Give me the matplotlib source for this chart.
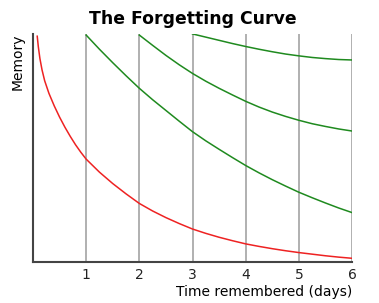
import numpy as np
import matplotlib
matplotlib.use("Agg")
import matplotlib.pyplot as plt

# values (days, memory 0..1)
red_t = [0.08, 0.1, 0.13, 0.17, 0.22, 0.3, 0.4, 0.5, 0.6, 0.7, 0.8, 0.9, 1.0,
         1.25, 1.5, 1.75, 2.0, 2.25, 2.5, 2.75, 3.0, 3.25, 3.5, 3.75, 4.0,
         4.25, 4.5, 4.75, 5.0, 5.25, 5.5, 5.75, 6.0]
red_m = [0.99, 0.945, 0.893, 0.843, 0.795, 0.74, 0.685, 0.636, 0.592, 0.552, 0.515,
         0.482, 0.452, 0.395, 0.345, 0.30, 0.258, 0.225, 0.196, 0.17, 0.146,
         0.127, 0.11, 0.095, 0.081, 0.07, 0.06, 0.051, 0.043, 0.036, 0.029,
         0.023, 0.018]

g1_t = [1.0, 1.25, 1.5, 1.75, 2.0, 2.25, 2.5, 2.75, 3.0, 3.25, 3.5, 3.75,
        4.0, 4.25, 4.5, 4.75, 5.0, 5.25, 5.5, 5.75, 6.0]
g1_m = [0.995, 0.933, 0.874, 0.817, 0.762, 0.712, 0.665, 0.618, 0.572, 0.532,
        0.495, 0.459, 0.424, 0.392, 0.362, 0.334, 0.307, 0.283, 0.26, 0.238, 0.218]

g2_t = [2.0, 2.25, 2.5, 2.75, 3.0, 3.25, 3.5, 3.75, 4.0, 4.25, 4.5, 4.75,
        5.0, 5.25, 5.5, 5.75, 6.0]
g2_m = [0.995, 0.95, 0.906, 0.865, 0.827, 0.793, 0.762, 0.733, 0.705, 0.68,
        0.658, 0.639, 0.622, 0.607, 0.595, 0.584, 0.575]

g3_t = [3.0, 3.25, 3.5, 3.75, 4.0, 4.25, 4.5, 4.75, 5.0, 5.25, 5.5, 5.75, 6.0]
g3_m = [1.0, 0.986, 0.972, 0.958, 0.945, 0.933, 0.922, 0.912, 0.904, 0.897,
        0.892, 0.888, 0.886]

review_days = [1, 2, 3, 4, 5, 6]

fig = plt.figure(figsize=(3.79, 3.03), dpi=100)
ax = fig.add_axes([0.087, 0.134, 0.842, 0.754])

for d in review_days:
    ax.axvline(d, color="#aaaaaa", lw=1.3, zorder=1)

ax.plot(red_t, red_m, color="#ee2222", lw=1.1, zorder=3)
for t, m in [(g1_t, g1_m), (g2_t, g2_m), (g3_t, g3_m)]:
    ax.plot(t, m, color="#1f8a1f", lw=1.1, zorder=3)

ax.set_xlim(0, 6)
ax.set_ylim(0, 1)
ax.set_xticks(review_days)
ax.set_yticks([])
ax.tick_params(axis="x", length=0, pad=4, labelsize=10, colors="#222222")
for s in ["top", "right"]:
    ax.spines[s].set_visible(False)
for s in ["left", "bottom"]:
    ax.spines[s].set_color("#444444")
    ax.spines[s].set_linewidth(1.5)

ax.set_title("The Forgetting Curve", fontsize=12.4, fontweight="bold", pad=7)
ax.set_xlabel("Time remembered (days)", fontsize=10, loc="right", labelpad=2)
ax.set_ylabel("Memory", fontsize=10, loc="top", labelpad=6)

fig.savefig("out.png", dpi=100)
